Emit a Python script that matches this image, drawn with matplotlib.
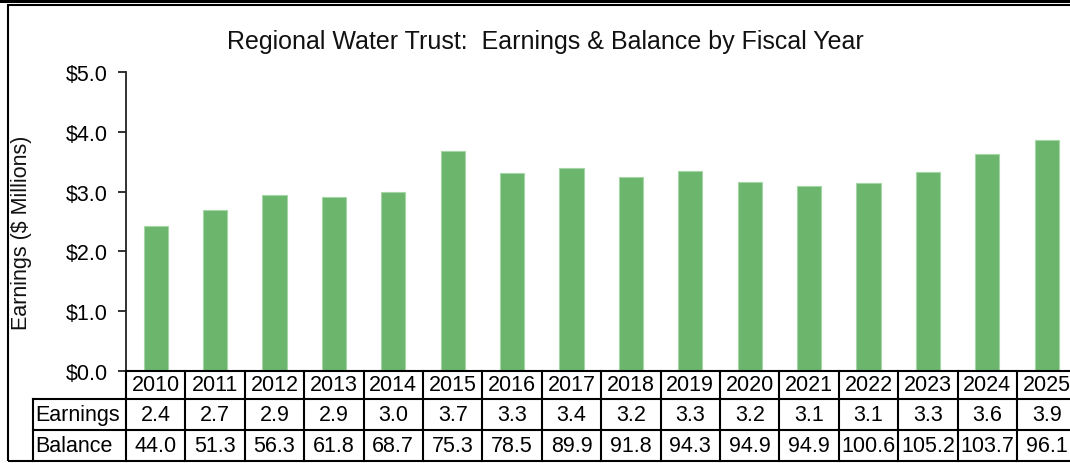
import matplotlib
matplotlib.use("Agg")
import matplotlib.pyplot as plt
from matplotlib.transforms import blended_transform_factory
from matplotlib.lines import Line2D
from matplotlib.patches import Rectangle

plt.rcParams['font.family'] = ['Liberation Sans', 'DejaVu Sans']

years = [2010, 2011, 2012, 2013, 2014, 2015, 2016, 2017, 2018, 2019, 2020, 2021, 2022, 2023, 2024, 2025]
earnings = [2.43, 2.70, 2.94, 2.91, 2.99, 3.68, 3.31, 3.39, 3.24, 3.34, 3.16, 3.10, 3.14, 3.33, 3.63, 3.87]
balance = [44.0, 51.3, 56.3, 61.8, 68.7, 75.3, 78.5, 89.9, 91.8, 94.3, 94.9, 94.9, 100.6, 105.2, 103.7, 96.1]
yticks = [0, 1, 2, 3, 4, 5]
title = "Regional Water Trust:  Earnings & Balance by Fiscal Year"
ylabel = "Earnings ($ Millions)"
row_labels = ["Earnings", "Balance"]

W, H = 1070, 464
fig = plt.figure(figsize=(W / 100, H / 100), dpi=100)

def fy(py):
    return 1 - py / H

def fx(px):
    return px / W

FS = 15.5

# axes geometry in pixels
ax_left, ax_top, ax_bottom = 126.0, 73.0, 372.0
col_w = 59.4
n = len(years)
ax = fig.add_axes([fx(ax_left), fy(ax_bottom), (n * col_w) / W, (ax_bottom - ax_top) / H])
ax.set_xlim(-0.5, n - 0.5)
ax.set_ylim(0, 5)

xs = list(range(n))
ax.bar(xs, earnings, width=0.41, color='#6bb56d', edgecolor='#a5d6a5', linewidth=0.8, zorder=2)

for s in ['top', 'right']:
    ax.spines[s].set_visible(False)
ax.spines['left'].set_color('#222222')
ax.spines['bottom'].set_color('#000000')
ax.spines['left'].set_linewidth(1.3)
ax.spines['bottom'].set_linewidth(1.5)
ax.set_xticks([])
ax.set_yticks(yticks)
ax.set_yticklabels([f"${v:.1f}" for v in yticks], fontsize=FS)
ax.tick_params(axis='y', direction='out', length=6, width=1.3, color='#222222', pad=7)

# title and y label
fig.text(fx(545), fy(42), title, ha='center', va='center', fontsize=18, color='#111111')
fig.text(fx(22), fy(233), ylabel, ha='center', va='center', rotation=90, fontsize=FS, color='#111111')

# data table
tr = blended_transform_factory(ax.transData, fig.transFigure)
y_axis = fy(372)
y_r1 = fy(400)
y_r2 = fy(431)
y_r3 = fy(462)
lw = 1.5
for i in range(n + 1):
    xb = i - 0.5
    fig.add_artist(Line2D([xb, xb], [y_axis, y_r3], transform=tr, color='black', lw=lw, clip_on=False))
for yy in [y_r1, y_r2]:
    fig.add_artist(Line2D([-0.5, n - 0.5], [yy, yy], transform=tr, color='black', lw=lw, clip_on=False))
label_left = fx(33)
for yy in [y_r1, y_r2]:
    fig.add_artist(Line2D([label_left, fx(ax_left)], [yy, yy], transform=fig.transFigure, color='black', lw=lw))
fig.add_artist(Line2D([label_left, label_left], [y_r1, y_r3], transform=fig.transFigure, color='black', lw=lw))

for i, yr in enumerate(years):
    fig.text(i, fy(386), str(yr), transform=tr, ha='center', va='center', fontsize=FS)
    fig.text(i, fy(416), f"{earnings[i]:.1f}", transform=tr, ha='center', va='center', fontsize=FS)
    fig.text(i, fy(447), f"{balance[i]:.1f}", transform=tr, ha='center', va='center', fontsize=FS)
fig.text(fx(35), fy(416), row_labels[0], ha='left', va='center', fontsize=FS)
fig.text(fx(35), fy(447), row_labels[1], ha='left', va='center', fontsize=FS)

# outer chart frame
fig.add_artist(Rectangle((fx(8), fy(462)), fx(1080 - 8), fy(6) - fy(462), transform=fig.transFigure,
                         fill=False, edgecolor='black', lw=1.5, clip_on=False))
# top page border band
fig.add_artist(Rectangle((0, fy(4.3)), 1, fy(0) - fy(4.3), transform=fig.transFigure,
                         facecolor='black', edgecolor='none'))

fig.savefig("out.png", dpi=100)
